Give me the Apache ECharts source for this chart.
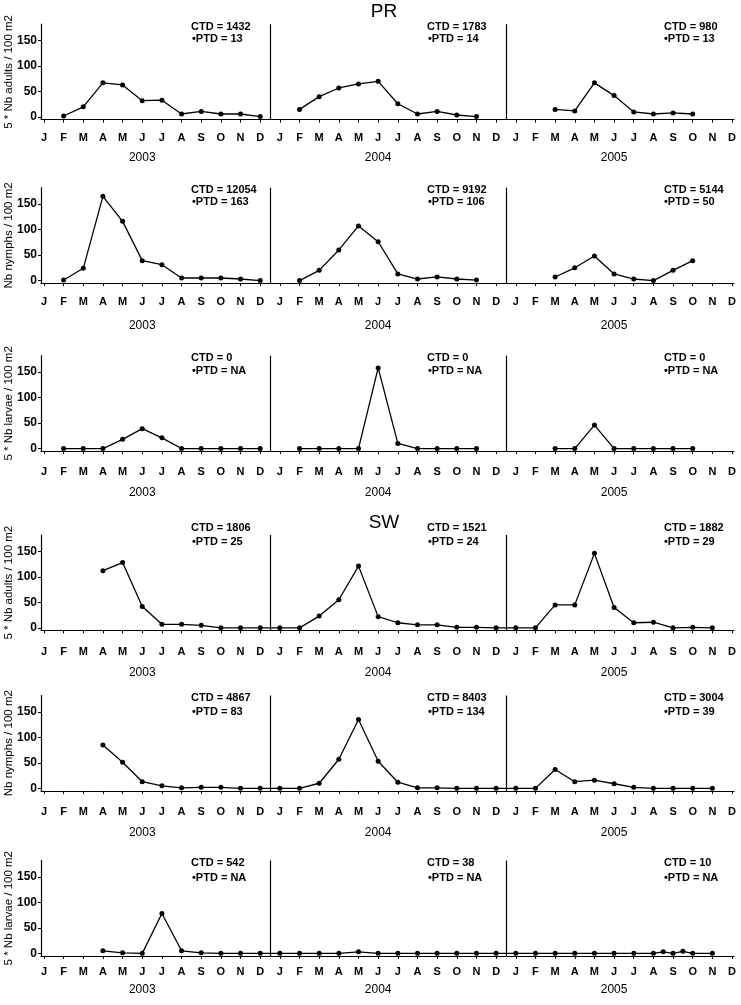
<!DOCTYPE html>
<html>
<head>
<meta charset="utf-8">
<script src="https://cdn.jsdelivr.net/npm/echarts@6/dist/echarts.min.js"></script>
<style>
  html, body { margin: 0; padding: 0; background: #fff; }
  #chart { width: 741px; height: 1005px; }
</style>
</head>
<body>
<div id="chart"></div>
<script>
// ---------------- DATA ----------------
var monthLetters = ['J','F','M','A','M','J','J','A','S','O','N','D'];
var years = ['2003', '2004', '2005'];

// monthly values (36 months: Jan 2003 .. Dec 2005), null = no sample
var prAdults = [
  null, 2, 20, 67, 63, 32, 33, 6, 11, 6, 6, 1,
  null, 15, 40, 57, 65, 70, 26, 6, 11, 4, 1, null,
  null, null, 15, 12, 67, 42, 10, 6, 8, 6, null, null
];
var prNymphs = [
  null, 1, 24, 165, 116, 39, 31, 5, 5, 5, 3, 0,
  null, 0, 20, 60, 107, 76, 13, 3, 7, 3, 1, null,
  null, null, 7, 25, 48, 13, 3, 0, 20, 39, null, null
];
var prLarvae = [
  null, 0, 0, 0, 18, 39, 21, 0, 0, 0, 0, 0,
  null, 0, 0, 0, 0, 158, 10, 0, 0, 0, 0, null,
  null, null, 0, 0, 46, 0, 0, 0, 0, 0, null, null
];
var swAdults = [
  null, null, null, 112, 128, 42, 7, 7, 5, 0, 0, 0,
  0, 0, 23, 55, 121, 22, 10, 6, 6, 1, 1, 0,
  0, 0, 45, 45, 146, 40, 10, 11, 0, 1, 0, null
];
var swNymphs = [
  null, null, null, 85, 51, 13, 5, 1, 2, 2, 0, 0,
  0, 0, 10, 57, 135, 53, 12, 1, 1, 0, 0, 0,
  0, 0, 37, 13, 16, 9, 2, 0, 0, 0, 0, null
];
var swLarvae = [
  null, null, null, 5, 1, 0, 78, 5, 1, 0, 0, 0,
  0, 0, 0, 0, 3, 0, 0, 0, 0, 0, 0, 0,
  0, 0, 0, 0, 0, 0, 0, 0, 0, 0, 0, null
];
// extra mid-month samples (month index, value)
var swLarvaeExtraX = [31.5, 32.5];
var swLarvaeExtraY = [3, 4];

var ctdPrAdults = [1432, 1783, 980];
var ptdPrAdults = ['13', '14', '13'];
var ctdPrNymphs = [12054, 9192, 5144];
var ptdPrNymphs = ['163', '106', '50'];
var ctdPrLarvae = [0, 0, 0];
var ptdPrLarvae = ['NA', 'NA', 'NA'];
var ctdSwAdults = [1806, 1521, 1882];
var ptdSwAdults = ['25', '24', '29'];
var ctdSwNymphs = [4867, 8403, 3004];
var ptdSwNymphs = ['83', '134', '39'];
var ctdSwLarvae = [542, 38, 10];
var ptdSwLarvae = ['NA', 'NA', 'NA'];

var yTicks = [0, 50, 100, 150];
var yearSeparators = [11.5, 23.5];
var yearLabelMonth = [5, 17, 29];

var panelNames = [
  '5 * Nb adults / 100 m2', 'Nb nymphs / 100 m2', '5 * Nb larvae / 100 m2',
  '5 * Nb adults / 100 m2', 'Nb nymphs / 100 m2', '5 * Nb larvae / 100 m2'
];
var siteTitles = ['PR', 'SW'];

// ---------------- LAYOUT ----------------
var FONT = 'Liberation Sans, Arial, Helvetica, sans-serif';
var panelTops = [24.2, 187.7, 355.7, 535, 695.5, 860.5];
var panelHeight = 95.4;
var gridLeft = 41, gridRight = 7;
var monthMargins = [13, 13, 15, 16, 15.5, 10.5];
var yearOffsets = [32, 36.5, 35.5, 36.5, 36, 28];
var annX = [[191, 192], [427, 428], [664, 664]];
var annY = [[27, 39], [190, 202], [357.7, 371], [528, 541.7], [698, 711.7], [863, 877.7]];
var titlePos = [[384, 12], [384, 523]];

var panels = [
  { values: prAdults, ctd: ctdPrAdults, ptd: ptdPrAdults },
  { values: prNymphs, ctd: ctdPrNymphs, ptd: ptdPrNymphs },
  { values: prLarvae, ctd: ctdPrLarvae, ptd: ptdPrLarvae },
  { values: swAdults, ctd: ctdSwAdults, ptd: ptdSwAdults },
  { values: swNymphs, ctd: ctdSwNymphs, ptd: ptdSwNymphs },
  { values: swLarvae, ctd: ctdSwLarvae, ptd: ptdSwLarvae, extraX: swLarvaeExtraX, extraY: swLarvaeExtraY }
];

var monthIdx = [];
for (var m = 0; m < 36; m++) monthIdx.push(m);

var grids = [], xAxes = [], yAxes = [], series = [], graphics = [];

panels.forEach(function (p, i) {
  grids.push({
    left: gridLeft, right: gridRight, top: panelTops[i], height: panelHeight,
    containLabel: false, outerBoundsMode: 'none'
  });

  xAxes.push({
    type: 'value', gridIndex: i, min: -0.15, max: 35.1,
    splitLine: { show: false },
    axisLine: { onZero: false, lineStyle: { color: '#000', width: 1.2 } },
    axisTick: { show: true, length: 3, customValues: monthIdx, lineStyle: { color: '#000' } },
    axisLabel: {
      customValues: monthIdx, margin: monthMargins[i],
      color: '#000', fontFamily: FONT, fontSize: 11, fontWeight: 'bold',
      formatter: function (v) { return monthLetters[Math.round(v) % 12]; }
    }
  });
  xAxes.push({
    type: 'value', gridIndex: i, min: -0.15, max: 35.1, position: 'bottom',
    offset: yearOffsets[i],
    splitLine: { show: false },
    axisLine: { show: false, onZero: false },
    axisTick: { show: false },
    axisLabel: {
      customValues: yearLabelMonth, margin: 0,
      color: '#000', fontFamily: FONT, fontSize: 12,
      formatter: function (v) { return years[Math.floor(Math.round(v) / 12)]; }
    }
  });

  yAxes.push({
    type: 'value', gridIndex: i, min: -5, max: 182,
    name: panelNames[i], nameLocation: 'middle', nameGap: 26, nameRotate: 90,
    nameMoveOverlap: false,
    nameTextStyle: { color: '#000', fontFamily: FONT, fontSize: 11.5 },
    splitLine: { show: false },
    axisLine: { show: true, onZero: false, lineStyle: { color: '#000', width: 1.2 } },
    axisTick: { show: true, length: 3, customValues: yTicks, lineStyle: { color: '#000' } },
    axisLabel: {
      customValues: yTicks, margin: 4,
      color: '#000', fontFamily: FONT, fontSize: 12, fontWeight: 'bold'
    }
  });

  // keep nulls so the line breaks where a month was not sampled
  var pts = p.values.map(function (v, k) { return [k, v === null ? null : v]; });
  if (p.extraX) {
    p.extraX.forEach(function (x, k) { pts.push([x, p.extraY[k]]); });
    pts.sort(function (a, b) { return a[0] - b[0]; });
  }

  series.push({
    type: 'line', xAxisIndex: 2 * i, yAxisIndex: i,
    data: pts,
    connectNulls: false,
    symbol: 'circle', symbolSize: 5,
    itemStyle: { color: '#000' },
    lineStyle: { color: '#000', width: 1.3 },
    silent: true, animation: false,
    markLine: {
      silent: true, symbol: 'none', animation: false,
      label: { show: false },
      lineStyle: { color: '#000', width: 1.2, type: 'solid' },
      data: yearSeparators.map(function (x) { return { xAxis: x }; })
    }
  });

  for (var y = 0; y < 3; y++) {
    graphics.push({
      type: 'text', x: annX[y][0], y: annY[i][0], silent: true,
      style: { text: 'CTD = ' + p.ctd[y], fill: '#000', font: 'bold 11px ' + FONT, align: 'left', verticalAlign: 'middle' }
    });
    graphics.push({
      type: 'text', x: annX[y][1], y: annY[i][1], silent: true,
      style: { text: '\u2022PTD = ' + p.ptd[y], fill: '#000', font: 'bold 11px ' + FONT, align: 'left', verticalAlign: 'middle' }
    });
  }
});

siteTitles.forEach(function (t, k) {
  graphics.push({
    type: 'text', x: titlePos[k][0], y: titlePos[k][1], silent: true,
    style: { text: t, fill: '#000', font: '19px ' + FONT, align: 'center', verticalAlign: 'middle' }
  });
});

var chart = echarts.init(document.getElementById('chart'), null, { renderer: 'canvas' });
chart.setOption({
  backgroundColor: '#fff',
  animation: false,
  grid: grids,
  xAxis: xAxes,
  yAxis: yAxes,
  series: series,
  graphic: graphics
});
</script>
</body>
</html>
